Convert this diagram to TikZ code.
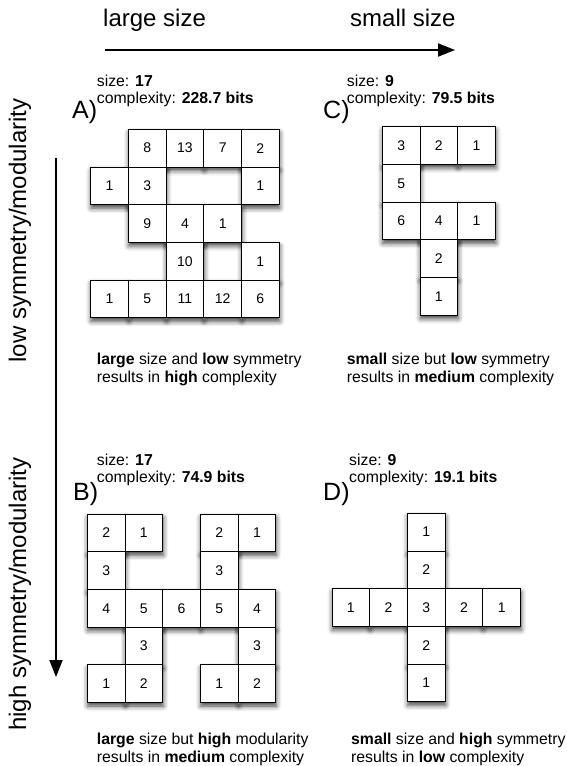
\documentclass[tikz,border=0pt]{standalone}
\usepackage{fontspec}
\setmainfont{Liberation Sans}
\usetikzlibrary{arrows.meta,shadows.blur}
\definecolor{ink}{HTML}{000000}
\definecolor{shade}{HTML}{3A3A3A}

\begin{document}
\begin{tikzpicture}[
  x=1pt, y=-1pt,
  cell/.style={draw=ink, fill=white, line width=1pt, minimum size=\csize pt,
               inner sep=0, font=\fontsize{14}{16}\selectfont},
  cellsh/.style={minimum size=\csize pt, inner sep=0,
                 blur shadow={shadow xshift=0.5pt, shadow yshift=-3.5pt,
                              shadow blur radius=5pt, shadow opacity=75}},
  axlbl/.style={font=\fontsize{24}{28}\selectfont, inner sep=0},
  plbl/.style={font=\fontsize{25}{28}\selectfont, inner sep=0, anchor=base west},
  hlbl/.style={font=\fontsize{15.8}{17}\selectfont, inner sep=0, anchor=base west},
  flow/.style={ink, line width=2pt, -{Triangle[length=17pt, width=13pt]}},
]
\useasboundingbox (0,0) rectangle (566,766);

\def\csize{37.7}
% grid top-left corners: A (90.7,129.3) | C (382.3,126.7) | B (87.3,514) | D (332,513.3)
\def\cellsA{1/0/8, 2/0/13, 3/0/7, 4/0/2, 0/1/1, 1/1/3, 4/1/1, 1/2/9, 2/2/4, 3/2/1,
            2/3/10, 4/3/1, 0/4/1, 1/4/5, 2/4/11, 3/4/12, 4/4/6}
\def\cellsC{0/0/3, 1/0/2, 2/0/1, 0/1/5, 0/2/6, 1/2/4, 2/2/1, 1/3/2, 1/4/1}
\def\cellsB{0/0/2, 1/0/1, 3/0/2, 4/0/1, 0/1/3, 3/1/3, 0/2/4, 1/2/5, 2/2/6, 3/2/5,
            4/2/4, 1/3/3, 4/3/3, 0/4/1, 1/4/2, 3/4/1, 4/4/2}
\def\cellsD{2/0/1, 2/1/2, 0/2/1, 1/2/2, 2/2/3, 3/2/2, 4/2/1, 2/3/2, 2/4/1}

% ---- axes ----
\node[axlbl, anchor=base west] (large) at (103, 26) {large size};
\node[axlbl, anchor=base west] (small) at (350, 26) {small size};
\coordinate (hstart) at (105, 50);
\coordinate (hend) at (455, 50);
\draw[flow] (hstart) -- (hend);

\node[axlbl, rotate=90] (lowsym) at (20, 230.5) {low symmetry/modularity};
\node[axlbl, rotate=90] (highsym) at (20, 594) {high symmetry/modularity};
\coordinate (vstart) at (56, 158);
\coordinate (vend) at (56, 677);
\draw[flow] (vstart) -- (vend);

% ---- headers ----
\node[hlbl] (Asize) at (96.7, 86) {size: \textbf{17}};
\node[hlbl] (Acplx) at (96.7, 103.3) {complexity: \textbf{228.7 bits}};
\node[plbl] (Apanel) at (72, 118.5) {A)};
\node[hlbl] (Csize) at (346.7, 86) {size: \textbf{9}};
\node[hlbl] (Ccplx) at (346.7, 103.3) {complexity: \textbf{79.5 bits}};
\node[plbl] (Cpanel) at (323, 118.5) {C)};
\node[hlbl] (Bsize) at (96.7, 465) {size: \textbf{17}};
\node[hlbl] (Bcplx) at (96.7, 482.7) {complexity: \textbf{74.9 bits}};
\node[plbl] (Bpanel) at (73, 500) {B)};
\node[hlbl] (Dsize) at (349, 465) {size: \textbf{9}};
\node[hlbl] (Dcplx) at (349, 482.7) {complexity: \textbf{19.1 bits}};
\node[plbl] (Dpanel) at (323, 500) {D)};

% ---- shadows first, then cells on top ----
\foreach \c/\r/\v in \cellsA{ \node[cellsh] (sA\c\r) at ({90.7+(\c+0.5)*\csize}, {129.3+(\r+0.5)*\csize}) {}; }
\foreach \c/\r/\v in \cellsC{ \node[cellsh] (sC\c\r) at ({382.3+(\c+0.5)*\csize}, {126.7+(\r+0.5)*\csize}) {}; }
\foreach \c/\r/\v in \cellsB{ \node[cellsh] (sB\c\r) at ({87.3+(\c+0.5)*\csize}, {514+(\r+0.5)*\csize}) {}; }
\foreach \c/\r/\v in \cellsD{ \node[cellsh] (sD\c\r) at ({332+(\c+0.5)*\csize}, {513.3+(\r+0.5)*\csize}) {}; }

\foreach \c/\r/\v in \cellsA{ \node[cell] (A\c\r) at ({90.7+(\c+0.5)*\csize}, {129.3+(\r+0.5)*\csize}) {\v}; }
\foreach \c/\r/\v in \cellsC{ \node[cell] (C\c\r) at ({382.3+(\c+0.5)*\csize}, {126.7+(\r+0.5)*\csize}) {\v}; }
\foreach \c/\r/\v in \cellsB{ \node[cell] (B\c\r) at ({87.3+(\c+0.5)*\csize}, {514+(\r+0.5)*\csize}) {\v}; }
\foreach \c/\r/\v in \cellsD{ \node[cell] (D\c\r) at ({332+(\c+0.5)*\csize}, {513.3+(\r+0.5)*\csize}) {\v}; }

% ---- captions ----
\node[hlbl] (Acap1) at (96.7, 364) {\textbf{large} size and \textbf{low} symmetry};
\node[hlbl] (Acap2) at (96.7, 382) {results in \textbf{high} complexity};
\node[hlbl] (Ccap1) at (346.7, 364) {\textbf{small} size but \textbf{low} symmetry};
\node[hlbl] (Ccap2) at (346.7, 382) {results in \textbf{medium} complexity};
\node[hlbl] (Bcap1) at (96.7, 744) {\textbf{large} size but \textbf{high} modularity};
\node[hlbl] (Bcap2) at (96.7, 762) {results in \textbf{medium} complexity};
\node[hlbl] (Dcap1) at (351, 744) {\textbf{small} size and \textbf{high} symmetry};
\node[hlbl] (Dcap2) at (351, 762) {results in \textbf{low} complexity};

\end{tikzpicture}
\end{document}
